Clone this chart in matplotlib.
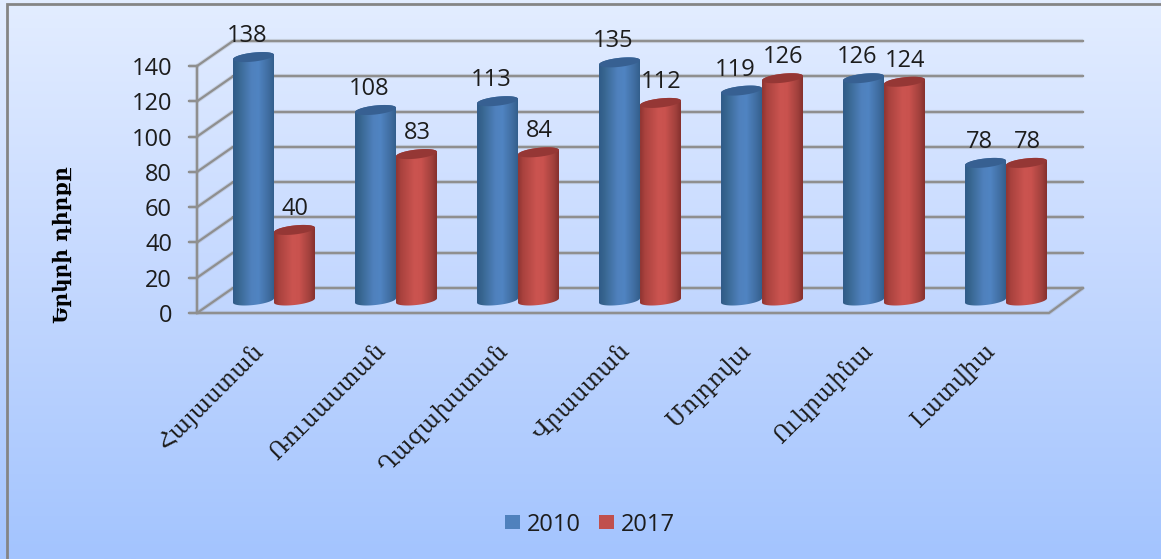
import numpy as np
import matplotlib
matplotlib.use('Agg')
import matplotlib.pyplot as plt
from matplotlib.colors import LinearSegmentedColormap
from matplotlib.patches import Polygon, Rectangle

countries = ['Հայաստան', 'Ռուսաստան', 'Ղազախստան', 'Վրաստան', 'Մոլդովա', 'Ուկրաինա', 'Լատվիա']
vals_2010 = [138, 108, 113, 135, 119, 126, 78]
vals_2017 = [40, 83, 84, 112, 126, 124, 78]
y_ticks = [0, 20, 40, 60, 80, 100, 120, 140]
y_title = 'Երկրի դիրքը'

W, H = 1161, 559
PX_CAT = 122.0   # px per category
PX_VAL = 1.764   # px per value unit
X0, Y0 = 274.0, 300.5   # pixel of category 0 / value 0 at mid depth

text_font = ['Open Sans', 'DejaVu Sans']
arm_font = ['DejaVu Serif', 'DejaVu Sans']
grid_col = '#8f8f8f'
text_col = '#1c1c1c'

fig = plt.figure(figsize=(W / 100, H / 100), dpi=100)
ax = fig.add_axes([0, 0, 1, 1])
xlim = (-X0 / PX_CAT, (W - X0) / PX_CAT)
ylim = ((Y0 - H) / PX_VAL, Y0 / PX_VAL)


def dx(px):
    return px / PX_CAT


def dy(px):
    return px / PX_VAL


# background
bg = LinearSegmentedColormap.from_list('bg', ['#e3edff', '#c4d8ff', '#a3c4fe'])
ax.imshow(np.linspace(0, 1, 256).reshape(-1, 1), cmap=bg, aspect='auto',
          extent=(xlim[0], xlim[1], ylim[0], ylim[1]), origin='upper', zorder=0)

# chart frame, open on the right and at the bottom
ax.plot([xlim[0] + dx(7), xlim[0] + dx(7), xlim[1]], [ylim[0], ylim[1] - dy(3.5), ylim[1] - dy(3.5)],
        color='#858585', lw=2, zorder=1, solid_joinstyle='miter')


def grid_line(xs, ys):
    ax.plot(xs, ys, color='#8f8f8f', lw=3.0, alpha=0.25, zorder=1.5, solid_capstyle='butt')
    ax.plot(xs, ys, color=grid_col, lw=1.6, zorder=2, solid_capstyle='projecting')


front_l, back_l = dx(197 - X0), dx(233 - X0)
front_r, back_r = dx(1049 - X0), dx(1083 - X0)
front_dy, back_dy = dy(-12.5), dy(12.5)

for v in y_ticks:
    grid_line([back_l, back_r], [v + back_dy, v + back_dy])
    grid_line([front_l, back_l], [v + front_dy, v + back_dy])
    grid_line([front_l - dx(8), front_l], [v + front_dy, v + front_dy])
    ax.text(dx(172 - X0), v + front_dy, str(v), ha='right', va='center_baseline',
            fontsize=17, family=text_font, color=text_col, zorder=6)
grid_line([front_l, front_l], [y_ticks[0] + front_dy, y_ticks[-1] + front_dy])
grid_line([front_l, front_r, back_r], [front_dy, front_dy, back_dy])


def cylinder(xc, value, cmap, top_col):
    # half width, half height and tilt of the ellipses, in px
    rx, ry, tilt = 20.5, 4.5, 2.2
    t = np.linspace(0, 2 * np.pi, 80)
    ex = rx * np.cos(t)
    ey = ry * np.sin(t) + tilt * np.cos(t)
    # back half of the top from the right end round to the left, then
    # down the left side and along the front half of the bottom
    upper = t <= np.pi
    lower = t >= np.pi
    xs = np.r_[xc + dx(ex[upper]), xc + dx(ex[lower])]
    ys = np.r_[value + dy(ey[upper]), dy(ey[lower])]
    body = Polygon(np.c_[xs, ys], closed=True, transform=ax.transData)
    im = ax.imshow(np.linspace(0, 1, 128).reshape(1, -1), cmap=cmap, aspect='auto',
                   extent=(xc - dx(rx), xc + dx(rx), -dy(8), value + dy(8)), zorder=3)
    im.set_clip_path(body)
    ax.add_patch(Polygon(np.c_[xc + dx(ex), value + dy(ey)], closed=True,
                         facecolor=top_col, edgecolor='none', zorder=3))


blue_map = LinearSegmentedColormap.from_list(
    'blue', [(0, '#2f5a88'), (0.12, '#37658f'), (0.45, '#4f81bd'), (0.62, '#5084c2'), (0.88, '#3f6c9f'), (1, '#335f8c')])
red_map = LinearSegmentedColormap.from_list(
    'red', [(0, '#8f3431'), (0.12, '#a9423e'), (0.45, '#cb5450'), (0.62, '#c9524e'), (0.88, '#a0403c'), (1, '#85302d')])

for i in range(len(countries)):
    xb, xr = i - dx(20.5), i + dx(20.5)
    cylinder(xb, vals_2010[i], blue_map, '#376092')
    cylinder(xr, vals_2017[i], red_map, '#953735')
    ax.text(xb - dx(6), vals_2010[i] + dy(21), str(vals_2010[i]), ha='center', va='center',
            fontsize=17, family=text_font, color=text_col, zorder=6)
    ax.text(xr + dx(1), vals_2017[i] + dy(21), str(vals_2017[i]), ha='center', va='center',
            fontsize=17, family=text_font, color=text_col, zorder=6)
    ax.text(i - dx(22), dy(300.5 - 339), countries[i], rotation=45, rotation_mode='anchor',
            ha='right', va='top', fontsize=16.5, family=arm_font, color=text_col, zorder=6)

ax.text(dx(62 - X0), dy(300.5 - 245), y_title, rotation=90, ha='center', va='center',
        fontsize=14.5, fontweight='bold', family=arm_font, color='black', zorder=6)

# legend
for x_px, col, lab in [(505, '#4f81bd', '2010'), (599, '#c0504d', '2017')]:
    ax.add_patch(Rectangle((dx(x_px - X0), dy(300.5 - 529)), dx(15), dy(14), facecolor=col,
                           edgecolor='none', zorder=6))
    ax.text(dx(x_px + 22 - X0), dy(300.5 - 522), lab, ha='left', va='center_baseline',
            fontsize=17, family=text_font, color=text_col, zorder=6)

ax.set_xlim(xlim)
ax.set_ylim(ylim)
ax.axis('off')
fig.savefig('out.png', dpi=100)
